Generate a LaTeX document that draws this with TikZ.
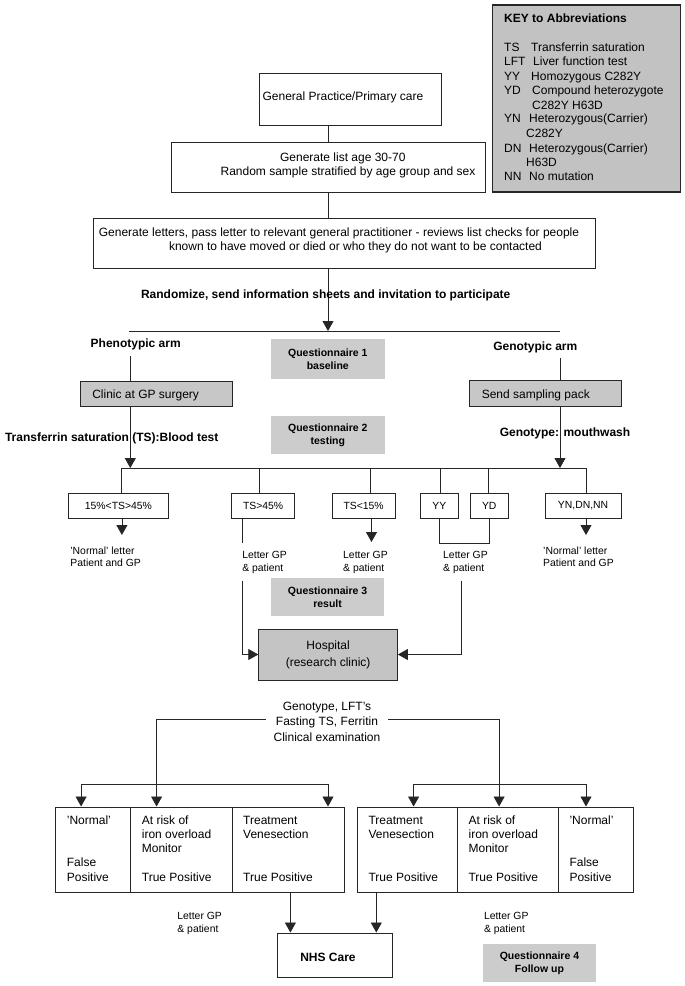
\documentclass[tikz,border=0pt]{standalone}
\usepackage{fontspec}
\setmainfont{Liberation Sans}
\usetikzlibrary{arrows.meta}
\definecolor{keygray}{gray}{0.76}
\definecolor{boxgray}{gray}{0.78}
\definecolor{qgray}{gray}{0.80}
\definecolor{hospgray}{gray}{0.77}
\newcommand\fmain{\fontsize{12}{14.3}\selectfont}
\newcommand\fsmall{\fontsize{10.4}{12.5}\selectfont}
\newcommand\fq{\fontsize{10.5}{13}\selectfont\bfseries}
\newcommand\rbox[7][]{\node[#1, minimum width={#5pt-#3pt}, minimum height={#6pt-#4pt}] (#2) at ({(#3+#5)/2},{(#4+#6)/2}) {#7};}
\newcommand\boxlines[3]{\foreach \t/\k in {#3} {\node[txt, anchor=base west] (#1-\k) at (#2,{824+14.3*\k}) {\t};}}
\begin{document}
\begin{tikzpicture}[x=1pt,y=-1pt,
  line/.style={draw=black!85, line width=0.8pt},
  arr/.style={line, -{Triangle[length=10pt,width=11pt]}},
  box/.style={draw=black!85, line width=1pt, fill=white, inner sep=0pt},
  gbox/.style={box, fill=boxgray},
  qbox/.style={fill=qgray, inner sep=0pt, align=center, font=\fq},
  txt/.style={inner sep=0pt, font=\fmain, anchor=base},
  stxt/.style={inner sep=0pt, font=\fsmall, anchor=base west},
  btxt/.style={inner sep=0pt, font={\fmain\bfseries}, anchor=base},
]
\useasboundingbox[fill=white] (0,0) rectangle (685,986);

% ---------- key ----------
\rbox[box, fill=keygray, line width=1.3pt]{key}{492.7}{5}{680.7}{192}{}
\node[btxt, anchor=base west] (keytitle) at (504,22) {KEY to Abbreviations};
\foreach \ab/\yy in {TS/47, LFT/61, YY/76, YD/90, YN/118, DN/148, NN/176}
  {\node[txt, anchor=base west] (ka-\ab) at (504,\yy+4) {\ab};}
\foreach \de/\yy/\dx [count=\i] in {Transferrin saturation/47/531, Liver function test/61/533,
  Homozygous C282Y/76/531, Compound heterozygote/90/532, C282Y H63D/105/532,
  Heterozygous(Carrier)/118/529, C282Y/133/526, Heterozygous(Carrier)/148/529,
  H63D/162/526, No mutation/176/529}
  {\node[txt, anchor=base west] (kd-\i) at (\dx,\yy+4) {\de};}

% ---------- top flow ----------
\rbox[box]{gp}{259.6}{73}{441.7}{125}{}
\node[txt] (gpt) at (343,100) {General Practice/Primary care};
\rbox[box]{gl}{171}{142}{485.5}{192}{}
\node[txt] (glt1) at (342.8,161) {Generate list age 30-70};
\node[txt] (glt2) at (348,175) {Random sample stratified by age group and sex};
\rbox[box]{lt}{93.4}{218}{595.6}{268}{}
\node[txt] (ltt1) at (339,236) {Generate letters, pass letter to relevant general practitioner - reviews list checks for people};
\node[txt] (ltt2) at (355.5,250) {known to have moved or died or who they do not want to be contacted};

\coordinate (sp) at (328,331);
\draw[line] (gp.south -| sp) -- (gl.north -| sp);
\draw[line] (gl.south -| sp) -- (lt.north -| sp);
\draw[arr] (lt.south -| sp) -- (sp);
\coordinate (hl) at (129.4,331);
\coordinate (hr) at (560,331);
\draw[line] (hl) -- (hr);
\node[btxt] (rand) at (325.7,298) {Randomize, send information sheets and invitation to participate};

\node[btxt] (phen) at (135.7,347) {Phenotypic arm};
\node[btxt] (gen) at (535.3,350) {Genotypic arm};
\rbox[gbox]{clinic}{80.3}{381}{232}{406}{}
\node[txt, anchor=base west] (clinict) at (92.1,398) {Clinic at GP surgery};
\rbox[gbox]{send}{469.7}{380}{621.5}{406}{}
\node[txt, anchor=base west] (sendt) at (481.6,398) {Send sampling pack};
\coordinate (px) at (130.3,356);
\coordinate (gx) at (560,358);
\draw[line] (px) -- (clinic.north -| px);
\draw[line] (gx) -- (send.north -| gx);

\rbox[qbox]{q1}{271}{339}{384.6}{379}{Questionnaire 1\\baseline}
\rbox[qbox]{q2}{271}{416}{384.6}{454}{Questionnaire 2\\testing}

\coordinate (hl2) at (121.5,468);
\coordinate (hr2) at (586.4,468);
\draw[arr] (clinic.south -| px) -- (px |- hl2);
\draw[arr] (send.south -| gx) -- (gx |- hl2);
\draw[line] (hl2) -- (hr2);
\node[btxt] (tsb) at (111.7,441) {Transferrin saturation (TS):Blood test};
\node[btxt] (gmw) at (565,436) {Genotype: mouthwash};

% ---------- result row ----------
\rbox[box, font=\fsmall]{r1}{68}{493}{168.9}{518}{15\%<TS>45\%}
\rbox[box, font=\fsmall]{r2}{231.6}{493}{294.7}{518}{TS>45\%}
\rbox[box, font=\fsmall]{r3}{332}{493}{395.2}{518}{TS<15\%}
\rbox[box, font=\fsmall]{r4}{420.2}{493}{458.3}{518}{YY}
\rbox[box, font=\fsmall]{r5}{470.2}{493}{508.3}{518}{YD}
\rbox[box, font=\fsmall]{r6}{545.2}{493}{621}{518}{YN,DN,NN}
\foreach \n/\x in {r1/121.5, r2/259.2, r3/370.6, r4/440.8, r5/488.2, r6/586.4}
  {\coordinate (v\n) at (\x,468); \draw[line] (v\n) -- (v\n |- \n.north);}

\coordinate (a1) at (121.9,535);
\draw[arr] (r1.south -| a1) -- (a1);
\coordinate (a3) at (371.5,542);
\draw[arr] (r3.south -| a3) -- (a3);
\coordinate (a6) at (586,535);
\draw[arr] (r6.south -| a6) -- (a6);

\node[stxt] (n1a) at (70.2,554.7) {'Normal' letter};
\node[stxt] (n1b) at (70.2,566.7) {Patient and GP};
\node[stxt] (l2a) at (242.1,558.7) {Letter GP};
\node[stxt] (l2b) at (242.1,571.7) {\& patient};
\node[stxt] (l3a) at (343,558.7) {Letter GP};
\node[stxt] (l3b) at (343,571.7) {\& patient};
\node[stxt] (l4a) at (443,558.7) {Letter GP};
\node[stxt] (l4b) at (443,571.7) {\& patient};
\node[stxt] (n6a) at (543,554.7) {'Normal' letter};
\node[stxt] (n6b) at (543,566.7) {Patient and GP};

\rbox[qbox]{q3}{271}{578}{384.2}{616}{Questionnaire 3\\result}
\rbox[box, fill=hospgray, align=center, font={\fontsize{12}{17}\selectfont}]{hosp}{258.8}{629}{397.4}{680}{Hospital\\(research clinic)}

\coordinate (c2a) at (242.1,543);
\draw[line] (r2.south -| c2a) -- (c2a);
\coordinate (c2b) at (242.1,581);
\draw[arr] (c2b) |- (hosp.west);
\coordinate (jy) at (0,543);
\draw[line] (r4.south) -- (r4.south |- jy) -- (r5.south |- jy) -- (r5.south);
\coordinate (c4) at (461.8,581);
\draw[arr] (c4) |- (hosp.east);

% ---------- clinical assessment ----------
\coordinate (hl3) at (156.6,719);
\coordinate (hr3) at (499.1,719);
\draw[line] (hl3) -- (hr3);
\node[fill=white, inner xsep=8pt, inner ysep=1pt, align=center, font={\fontsize{12}{15.5}\selectfont}] (exam) at (327,721.5) {Genotype, LFT's\\Fasting TS, Ferritin\\Clinical examination};

\rbox[box]{L1}{55.7}{807}{130.7}{892}{}
\rbox[box]{L2}{130.7}{807}{232}{892}{}
\rbox[box]{L3}{232}{807}{344.7}{892}{}
\rbox[box]{R1}{357.9}{807}{457.9}{892}{}
\rbox[box]{R2}{457.9}{807}{558.3}{892}{}
\rbox[box]{R3}{558.3}{807}{633.8}{892}{}

\coordinate (bl) at (81.1,784);
\coordinate (br) at (328,784);
\draw[line] (bl) -- (br);
\draw[arr] (hl3) -- (hl3 |- L2.north);
\draw[arr] (bl) -- (bl |- L1.north);
\draw[arr] (br) -- (br |- L3.north);
\coordinate (bl2) at (413.6,784);
\coordinate (br2) at (586,784);
\draw[line] (bl2) -- (br2);
\draw[arr] (hr3) -- (hr3 |- R2.north);
\draw[arr] (bl2) -- (bl2 |- R1.north);
\draw[arr] (br2) -- (br2 |- R3.north);

\boxlines{L1t}{66.7}{'Normal'/0, False/3, Positive/4}
\boxlines{L2t}{141.7}{At risk of/0, iron overload/1, Monitor/2, True Positive/4}
\boxlines{L3t}{243}{Treatment/0, Venesection/1, True Positive/4}
\boxlines{R1t}{368.4}{Treatment/0, Venesection/1, True Positive/4}
\boxlines{R2t}{468.4}{At risk of/0, iron overload/1, Monitor/2, True Positive/4}
\boxlines{R3t}{569.3}{'Normal'/0, False/3, Positive/4}

% ---------- NHS care ----------
\rbox[box]{nhs}{277.6}{933}{392.5}{977}{}
\node[btxt] (nhst) at (328,961) {NHS Care};
\coordinate (m1) at (290.4,0);
\coordinate (m2) at (376.3,0);
\draw[arr] (L3.south -| m1) -- (nhs.north -| m1);
\draw[arr] (R1.south -| m2) -- (nhs.north -| m2);
\node[stxt] (lb1) at (177.2,919.7) {Letter GP};
\node[stxt] (lb2) at (177.2,932.7) {\& patient};
\node[stxt] (lb3) at (483.8,919.7) {Letter GP};
\node[stxt] (lb4) at (483.8,932.7) {\& patient};
\rbox[qbox]{q4}{483.3}{944}{595.6}{982}{Questionnaire 4\\Follow up}
\end{tikzpicture}
\end{document}
